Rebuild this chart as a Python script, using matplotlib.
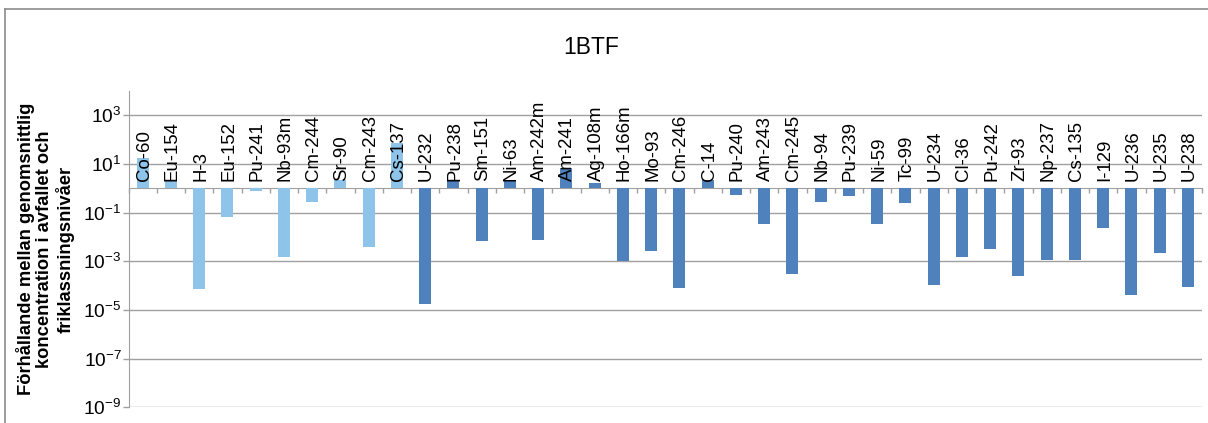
import matplotlib
matplotlib.use("Agg")
import matplotlib.pyplot as plt
from matplotlib.lines import Line2D
import numpy as np

plt.rcParams['font.family'] = ['Liberation Sans', 'DejaVu Sans']
plt.rcParams['mathtext.fontset'] = 'custom'
plt.rcParams['mathtext.rm'] = 'Liberation Sans'
plt.rcParams['mathtext.it'] = 'Liberation Sans:italic'
plt.rcParams['mathtext.bf'] = 'Liberation Sans:bold'

title = "1BTF"
ylabel = "Förhållande mellan genomsnittlig\nkoncentration i avfallet och\nfriklassningsnivåer"

nuclides = ["Co-60", "Eu-154", "H-3", "Eu-152", "Pu-241", "Nb-93m", "Cm-244", "Sr-90",
            "Cm-243", "Cs-137", "U-232", "Pu-238", "Sm-151", "Ni-63", "Am-242m", "Am-241",
            "Ag-108m", "Ho-166m", "Mo-93", "Cm-246", "C-14", "Pu-240", "Am-243", "Cm-245",
            "Nb-94", "Pu-239", "Ni-59", "Tc-99", "U-234", "Cl-36", "Pu-242", "Zr-93",
            "Np-237", "Cs-135", "I-129", "U-236", "U-235", "U-238"]
ratios = [17.8, 2.3, 7.6e-5, 0.069, 0.8, 1.56e-3, 0.27, 2.3,
          4.0e-3, 75, 1.7e-5, 2.3, 7.0e-3, 2.3, 7.5e-3, 7.0,
          1.66, 1.0e-3, 2.75e-3, 8.3e-5, 2.3, 0.55, 0.035, 3.1e-4,
          0.28, 0.5, 0.035, 0.26, 1.1e-4, 1.56e-3, 3.3e-3, 2.6e-4,
          1.18e-3, 1.18e-3, 0.024, 4.3e-5, 2.1e-3, 9.2e-5]
n_light = 10  # first group drawn in light blue
ytick_exps = [-9, -7, -5, -3, -1, 1, 3]

light_c = "#8EC3EA"
dark_c = "#4F81BD"
grid_c = "#A0A0A0"

W, H = 1208, 423
fig = plt.figure(figsize=(W / 100, H / 100), dpi=100)

# axes in pixel coords
x0, x1 = 128.5, 1202.0
ytop, ybot = 91.0, 407.3
ax = fig.add_axes([x0 / W, 1 - ybot / H, (x1 - x0) / W, (ybot - ytop) / H])

n = len(nuclides)
x = np.arange(n)
colors = [light_c if i < n_light else dark_c for i in range(n)]
vals = np.array(ratios)
ax.bar(x, vals - 1.0, bottom=1.0, width=0.43, color=colors, zorder=3)

ax.set_yscale('log')
ax.set_ylim(1e-9, 1e4)
ax.set_xlim(-0.5, n - 0.5)
ax.set_yticks([10.0 ** e for e in ytick_exps])
ax.set_yticklabels([r"$10^{%d}$" % e for e in ytick_exps], fontsize=13.8)
ax.yaxis.set_minor_locator(matplotlib.ticker.NullLocator())
ax.yaxis.grid(True, color=grid_c, linewidth=1.0, zorder=0)
ax.tick_params(axis='y', direction='out', length=4.5, width=1.0, color=grid_c, pad=0.5)

# x axis crossing at 1
ax.spines['bottom'].set_position(('data', 1.0))
ax.spines['bottom'].set_color(grid_c)
ax.spines['left'].set_color(grid_c)
ax.spines['top'].set_visible(False)
ax.spines['right'].set_visible(False)
ax.set_xticks(np.arange(n + 1) - 0.5)
ax.set_xticklabels([])
ax.tick_params(axis='x', direction='out', length=3.5, width=1.0, color=grid_c)

for i, name in enumerate(nuclides):
    ax.annotate(name, xy=(i, 1.0), xytext=(1.0, 5), textcoords='offset points',
                rotation=90, ha='center', va='bottom', fontsize=13.4, zorder=4)

fig.text(591 / W, 1 - 48 / H, title, ha='center', va='center', fontsize=16.5)
fig.text(45 / W, 1 - ((ytop + ybot) / 2) / H, ylabel, rotation=90, ha='center', va='center',
         fontsize=13.2, fontweight='bold', linespacing=1.12)

# outer border (partially visible)
bc = "#8C8C8C"
fig.add_artist(Line2D([5 / W, 1.0], [1 - 9 / H, 1 - 9 / H], transform=fig.transFigure, color=bc, lw=1.2))
fig.add_artist(Line2D([5 / W, 5 / W], [1 - 9 / H, 0.0], transform=fig.transFigure, color=bc, lw=1.2))

fig.savefig("out.png", dpi=100)
